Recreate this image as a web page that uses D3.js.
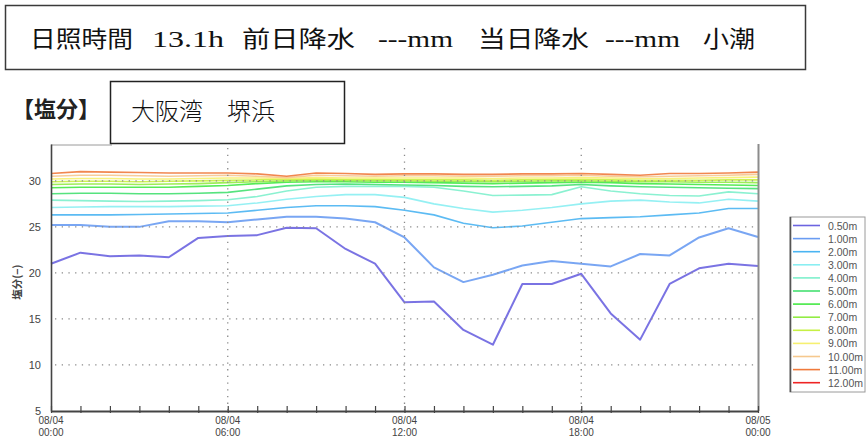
<!DOCTYPE html>
<html>
<head>
<meta charset="utf-8">
<script src="https://cdn.jsdelivr.net/npm/d3@7"></script>
<style>
  html, body { margin: 0; padding: 0; background: #fff; }
  svg { display: block; }
</style>
</head>
<body>
<svg id="chart" width="867" height="441"></svg>
<script>
// Hourly salinity readings at 堺浜 (Osaka Bay), 08/04 00:00 – 08/05 00:00
const hours = [0,1,2,3,4,5,6,7,8,9,10,11,12,13,14,15,16,17,18,19,20,21,22,23,24];

const depthLabels = ["0.50m","1.00m","2.00m","3.00m","4.00m","5.00m","6.00m",
                     "7.00m","8.00m","9.00m","10.00m","11.00m","12.00m"];
const depthColors = ["#6c64e0","#6a9cf2","#4ab4f2","#8aeef2","#7ef0cc","#44e070","#44e844",
                     "#92ec44","#c6f044","#f6f070","#f6c88e","#f07a3c","#ee2424"];

const d050 = [21.0,22.2,21.8,21.9,21.7,23.8,24.0,24.1,24.9,24.85,22.6,21.0,16.8,16.9,13.8,12.2,18.8,18.8,19.9,15.6,12.75,18.8,20.5,21.0,20.75];
const d100 = [25.2,25.2,25.0,25.0,25.6,25.6,25.5,25.8,26.1,26.1,25.9,25.5,23.85,20.6,19.0,19.8,20.8,21.3,21.0,20.7,22.05,21.9,23.85,24.85,23.9];
const d200 = [26.3,26.3,26.3,26.35,26.4,26.45,26.5,26.8,27.1,27.3,27.3,27.2,26.8,26.3,25.4,24.9,25.1,25.5,25.9,26.0,26.1,26.3,26.5,27.0,27.0];
const d300 = [27.1,27.15,27.2,27.2,27.2,27.25,27.3,27.6,28.0,28.3,28.5,28.5,28.2,27.5,27.0,26.6,26.8,27.1,27.5,27.8,27.9,27.7,27.6,28.0,27.8];
const d400 = [27.9,27.85,27.8,27.75,27.8,27.85,27.95,28.3,28.9,29.3,29.4,29.4,29.4,29.3,28.9,28.4,28.45,28.5,29.35,28.9,28.6,28.4,28.35,28.8,28.6];
const d500 = [28.6,28.65,28.65,28.6,28.6,28.65,28.75,29.1,29.45,29.6,29.65,29.6,29.55,29.5,29.4,29.35,29.4,29.45,29.6,29.45,29.35,29.3,29.25,29.2,29.15];
const d600 = [29.25,29.3,29.3,29.3,29.3,29.4,29.5,29.7,29.85,29.9,29.9,29.85,29.85,29.8,29.75,29.7,29.75,29.8,29.85,29.8,29.7,29.65,29.6,29.55,29.5];
const d700 = [29.6,29.65,29.65,29.6,29.65,29.7,29.8,29.9,30.0,30.05,30.05,30.0,30.0,29.95,29.95,29.9,29.95,30.0,30.0,29.95,29.9,29.9,29.85,29.85,29.8];
const d800 = [29.9,29.95,29.95,29.9,29.95,30.0,30.05,30.1,30.15,30.2,30.15,30.15,30.1,30.1,30.1,30.05,30.1,30.15,30.15,30.1,30.05,30.05,30.05,30.1,30.1];
const d900 = [30.2,30.25,30.25,30.2,30.2,30.25,30.3,30.3,30.25,30.35,30.3,30.3,30.3,30.3,30.3,30.25,30.3,30.3,30.35,30.3,30.25,30.25,30.3,30.35,30.4];
const d1000 = [30.5,30.6,30.6,30.55,30.5,30.55,30.6,30.5,30.35,30.6,30.55,30.5,30.55,30.55,30.5,30.5,30.55,30.55,30.6,30.5,30.45,30.5,30.55,30.6,30.7];
const d1100 = [30.8,31.0,30.95,30.9,30.85,30.85,30.85,30.75,30.5,30.85,30.8,30.7,30.75,30.75,30.7,30.7,30.75,30.75,30.8,30.7,30.6,30.8,30.8,30.85,30.95];
const d1200 = []; // no readings at 12 m

const seriesValues = [d050,d100,d200,d300,d400,d500,d600,d700,d800,d900,d1000,d1100,d1200];

const yTicks = [5,10,15,20,25,30];
const yGrid = [10,15,20,25,30];
const xLabelHours = [0,6,12,18,24];
const xLabelDates = ["08/04","08/04","08/04","08/04","08/05"];
const xLabelTimes = ["00:00","06:00","12:00","18:00","00:00"];
const xGrid = [6,12,18];

const headerParts = [
  {t:"日照時間", x:30, w:103}, {t:"13.1h", x:152, w:72},
  {t:"前日降水", x:242, w:113}, {t:"---mm", x:378, w:75},
  {t:"当日降水", x:478, w:111}, {t:"---mm", x:605, w:75},
  {t:"小潮", x:703, w:52}
];

const svg = d3.select("#chart");

// Header box with sunshine / rainfall / tide info
svg.append("rect").attr("x",5.5).attr("y",5.5).attr("width",800).attr("height",64)
  .attr("fill","#fff").attr("stroke","#3a3a3a").attr("stroke-width",1.5);
svg.append("g").selectAll("text").data(headerParts).join("text")
  .attr("x", d => d.x).attr("y", 47)
  .attr("textLength", d => d.w).attr("lengthAdjust","spacingAndGlyphs")
  .attr("font-family", "'Liberation Serif','Noto Sans CJK JP',serif")
  .attr("font-size", 23).attr("fill","#111")
  .text(d => d.t);

// Plot geometry
const plotL = 51, plotR = 758, plotT = 144, plotB = 411;
const x = d3.scaleLinear().domain([0,24]).range([plotL,plotR]);
const y = d3.scaleLinear().domain([5,34]).range([plotB,plotT]);

// Section title
svg.append("text").attr("x",12).attr("y",117)
  .attr("font-family","'Noto Sans CJK JP',sans-serif").attr("font-weight",700)
  .attr("font-size",22).attr("fill","#222").text("【塩分】");

// Series lines
const line = d3.line().defined(v => v != null).x((v,i) => x(hours[i])).y(v => y(v));
const lines = svg.append("g");
seriesValues.forEach((vals, k) => {
  if (!vals.length) return;
  lines.append("path").datum(vals)
    .attr("fill","none").attr("stroke",depthColors[k])
    .attr("stroke-width", k < 2 ? 2 : 1.6)
    .attr("stroke-linejoin","round")
    .attr("opacity", 0.9)
    .attr("d", line);
});

// Dotted grid
const grid = svg.append("g").attr("stroke","#8a8a8a").attr("stroke-width",1.3)
  .attr("stroke-dasharray","1.3,5.4");
grid.selectAll("line.h").data(yGrid).join("line").attr("class","h")
  .attr("x1",plotL+4).attr("x2",plotR).attr("y1",d=>y(d)).attr("y2",d=>y(d));
grid.selectAll("line.v").data(xGrid).join("line").attr("class","v")
  .attr("x1",d=>x(d)).attr("x2",d=>x(d)).attr("y1",plotT+4).attr("y2",plotB);

// Frame: right edge and top-left stub
svg.append("line").attr("x1",plotR+0.5).attr("x2",plotR+0.5).attr("y1",plotT).attr("y2",plotB)
  .attr("stroke","#8c8c8c").attr("stroke-width",2);
svg.append("line").attr("x1",plotL).attr("x2",112).attr("y1",plotT+1).attr("y2",plotT+1)
  .attr("stroke","#9a9a9a").attr("stroke-width",1);

// Y axis
const yAxis = svg.append("g").attr("transform",`translate(${plotL},0)`)
  .call(d3.axisLeft(y).tickValues(yTicks).tickSize(0).tickPadding(10).tickSizeOuter(0));
yAxis.select(".domain").attr("stroke","#444").attr("stroke-width",1.6);
yAxis.selectAll("text").attr("font-family","Arial,'Liberation Sans',sans-serif")
  .attr("font-size",11).attr("fill","#444");

svg.append("text")
  .attr("transform",`translate(21,${(y(13)+y(25))/2}) rotate(-90)`)
  .attr("text-anchor","middle")
  .attr("font-family","'Noto Sans CJK JP',sans-serif").attr("font-weight",700)
  .attr("font-size",10.5).attr("fill","#444").text("塩分(−)");

// X axis: hourly ticks crossing the baseline
const xAxis = svg.append("g").attr("transform",`translate(0,${plotB})`)
  .call(d3.axisBottom(x).tickValues(hours).tickSizeInner(-5).tickSizeOuter(0).tickFormat(""));
xAxis.select(".domain").attr("stroke","#444").attr("stroke-width",2);
xAxis.selectAll(".tick line").attr("y1",2).attr("stroke","#444").attr("stroke-width",1.2);

const xl = svg.append("g").attr("font-family","Arial,'Liberation Sans',sans-serif")
  .attr("font-size",10).attr("fill","#444").attr("text-anchor","middle");
xl.selectAll("text.d").data(xLabelHours).join("text").attr("class","d")
  .attr("x",d=>x(d)).attr("y",plotB+13).text((d,i)=>xLabelDates[i]);
xl.selectAll("text.t").data(xLabelHours).join("text").attr("class","t")
  .attr("x",d=>x(d)).attr("y",plotB+25).text((d,i)=>xLabelTimes[i]);

// Station name box (drawn above the frame)
svg.append("rect").attr("x",110.5).attr("y",81.5).attr("width",234).attr("height",62)
  .attr("fill","#fff").attr("stroke","#222").attr("stroke-width",1.5);
svg.append("text").attr("x",131).attr("y",120)
  .attr("font-family","'Noto Sans CJK JP',sans-serif").attr("font-weight",300)
  .attr("font-size",24).attr("fill","#111").text("大阪湾\u3000堺浜");

// Legend
const lgX = 790, lgY = 217, lgH = 175;
svg.append("rect").attr("x",lgX).attr("y",lgY).attr("width",75).attr("height",lgH)
  .attr("fill","#fff").attr("stroke","#9a9a9a").attr("stroke-width",1);
svg.append("line").attr("x1",lgX+0.5).attr("x2",lgX+0.5).attr("y1",lgY).attr("y2",lgY+lgH)
  .attr("stroke","#555").attr("stroke-width",1.6);
const items = svg.append("g").selectAll("g").data(depthLabels).join("g")
  .attr("transform",(d,i)=>`translate(0,${lgY + 8.5 + i*13.1})`);
items.append("line").attr("x1",793).attr("x2",820).attr("stroke",(d,i)=>depthColors[i])
  .attr("stroke-width",1.6);
items.append("text").attr("x",828).attr("y",4)
  .attr("font-family","Arial,'Liberation Sans',sans-serif").attr("font-size",10.5)
  .attr("fill","#555").text(d=>d);
</script>
</body>
</html>
